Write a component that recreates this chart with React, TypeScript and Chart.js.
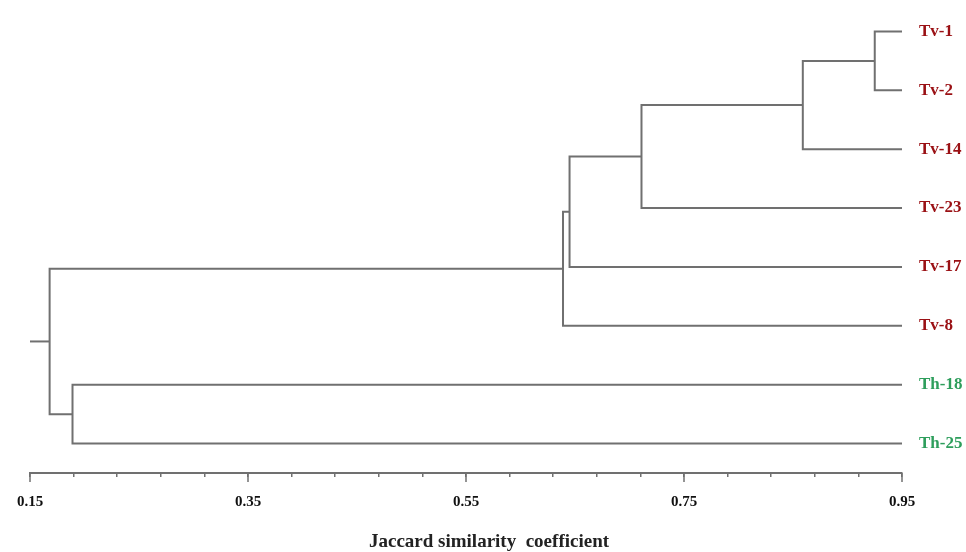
import React, { useEffect, useRef } from "react";
import { Chart, registerables } from "chart.js";

Chart.register(...registerables);

// Leaves (top to bottom)
const leafNames = ["Tv-1", "Tv-2", "Tv-14", "Tv-23", "Tv-17", "Tv-8", "Th-18", "Th-25"];
const leafGroups = ["Tv", "Tv", "Tv", "Tv", "Tv", "Tv", "Th", "Th"];
// Merges (scipy-like linkage): child ids (leaves 0..7, merges 8+), similarity height
const mergeLeft = [0, 8, 9, 10, 11, 6, 12];
const mergeRight = [1, 2, 3, 4, 5, 7, 13];
const mergeHeight = [0.925, 0.859, 0.711, 0.645, 0.639, 0.189, 0.168];
const leafSimilarity = 0.95;
const rootStart = 0.15;
// Axis ticks
const majorTicks = [0.15, 0.35, 0.55, 0.75, 0.95];
const minorPerMajor = 5;
const axisTitle = "Jaccard similarity  coefficient";

const groupColors: Record<string, string> = { Tv: "#9a1014", Th: "#2e9e5c" };
const lineColor = "#707070";
const serif = '"Liberation Serif", "Times New Roman", serif';

export default function App() {
  const ref = useRef<HTMLCanvasElement | null>(null);

  useEffect(() => {
    if (!ref.current) return;
    const nodeX: number[] = leafNames.map(() => leafSimilarity);
    const nodeY: number[] = leafNames.map((_, i) => i);
    const datasets: any[] = [];
    mergeLeft.forEach((l, k) => {
      const r = mergeRight[k];
      const h = mergeHeight[k];
      const y = (nodeY[l] + nodeY[r]) / 2;
      datasets.push({
        data: [
          { x: nodeX[l], y: nodeY[l] },
          { x: h, y: nodeY[l] },
          { x: h, y: nodeY[r] },
          { x: nodeX[r], y: nodeY[r] },
        ],
      });
      nodeX.push(h);
      nodeY.push(y);
    });
    const rootId = nodeX.length - 1;
    datasets.push({
      data: [
        { x: rootStart, y: nodeY[rootId] },
        { x: nodeX[rootId], y: nodeY[rootId] },
      ],
    });
    datasets.forEach((d) => {
      Object.assign(d, {
        showLine: true,
        borderColor: lineColor,
        borderWidth: 2,
        pointRadius: 0,
        pointHoverRadius: 0,
        fill: false,
        tension: 0,
        borderJoinStyle: "miter",
      });
    });

    const tickValues: number[] = [];
    for (let i = 0; i < majorTicks.length; i++) {
      tickValues.push(majorTicks[i]);
      if (i < majorTicks.length - 1) {
        const step = (majorTicks[i + 1] - majorTicks[i]) / minorPerMajor;
        for (let j = 1; j < minorPerMajor; j++) tickValues.push(majorTicks[i] + step * j);
      }
    }
    const isMajor = (v: number) => majorTicks.some((m) => Math.abs(m - v) < 1e-6);

    const extras = {
      id: "extras",
      afterDraw(chart: any) {
        const ctx = chart.ctx;
        const xs = chart.scales.x;
        const bottom = chart.chartArea.bottom;
        ctx.save();
        ctx.strokeStyle = lineColor;
        ctx.lineWidth = 1.5;
        majorTicks.forEach((v) => {
          const px = xs.getPixelForValue(v);
          ctx.beginPath();
          ctx.moveTo(px, bottom);
          ctx.lineTo(px, bottom + 9);
          ctx.stroke();
        });
        ctx.fillStyle = "#222";
        ctx.font = `bold 19px ${serif}`;
        ctx.textAlign = "center";
        ctx.textBaseline = "alphabetic";
        const cx = (chart.chartArea.left + chart.chartArea.right) / 2 + 23;
        ctx.fillText(axisTitle, cx, 547);
        ctx.restore();
      },
    };

    const chart = new Chart(ref.current, {
      type: "scatter",
      data: { datasets },
      plugins: [extras],
      options: {
        animation: false,
        responsive: true,
        maintainAspectRatio: false,
        events: [],
        layout: { padding: { left: 30, top: 2, right: 0, bottom: 0 } },
        plugins: { legend: { display: false }, tooltip: { enabled: false }, title: { display: false } },
        scales: {
          x: {
            type: "linear",
            min: majorTicks[0],
            max: majorTicks[majorTicks.length - 1],
            afterBuildTicks: (scale: any) => {
              scale.ticks = tickValues.map((v) => ({ value: v }));
            },
            afterFit: (scale: any) => {
              scale.height = 79;
            },
            grid: {
              display: true,
              drawOnChartArea: false,
              drawTicks: true,
              tickLength: 4,
              color: lineColor,
              lineWidth: 1.5,
            },
            border: { display: true, color: lineColor, width: 2 },
            ticks: {
              autoSkip: false,
              maxRotation: 0,
              padding: 16,
              color: "#111",
              font: { family: serif, size: 15, weight: "bold" },
              callback: (v: any) => (isMajor(Number(v)) ? Number(v).toFixed(2) : ""),
            },
          },
          y: {
            type: "linear",
            position: "right",
            reverse: true,
            min: -0.5,
            max: leafNames.length - 0.5,
            afterBuildTicks: (scale: any) => {
              scale.ticks = leafNames.map((_, i) => ({ value: i }));
            },
            afterFit: (scale: any) => {
              scale.width = 64;
              scale.paddingTop = 0;
              scale.paddingBottom = 0;
            },
            grid: { display: false, drawTicks: false },
            border: { display: false },
            ticks: {
              autoSkip: false,
              padding: 17,
              crossAlign: "near",
              font: { family: serif, size: 17, weight: "bold" },
              color: (c: any) => groupColors[leafGroups[Math.round(c.tick.value)]],
              callback: (v: any) => leafNames[Math.round(Number(v))] ?? "",
            },
          },
        },
      },
    });
    return () => chart.destroy();
  }, []);

  return (
    <div style={{ position: "fixed", left: 0, top: 0, width: 966, height: 552, background: "#fff" }}>
      <canvas ref={ref} />
    </div>
  );
}
